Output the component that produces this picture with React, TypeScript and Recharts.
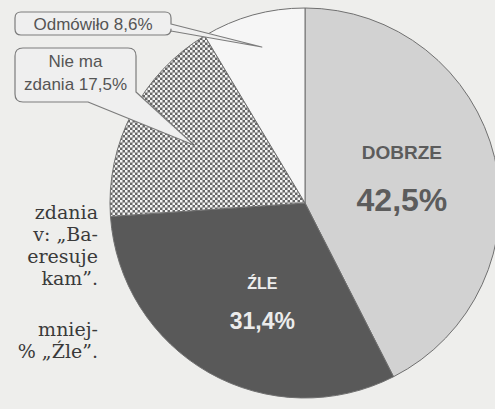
import React from 'react';
import { PieChart, Pie, Cell } from 'recharts';

const categories = ['DOBRZE', 'ŹLE', 'Nie ma zdania', 'Odmówiło'];
const values = [42.5, 31.4, 17.5, 8.6];
const valueLabels = ['42,5%', '31,4%', '17,5%', '8,6%'];
const bodyLines = ['zdania', 'v: „Ba-', 'eresuje', 'kam”.', '', 'mniej-', '% „Źle”.'];

const fills = ['#d2d2d2', '#595959', 'url(#checker)', '#f6f6f6'];
const data = categories.map((name, i) => ({ name, value: values[i] }));

const RAD = Math.PI / 180;
const polar = (cx: number, cy: number, r: number, a: number) => ({
  x: cx + r * Math.cos(-a * RAD),
  y: cy + r * Math.sin(-a * RAD),
});

// inside labels: [radius fraction, angle]
const insidePos: Record<number, { rf: number; a: number }> = {
  0: { rf: 0.51, a: 13 },
  1: { rf: 0.585, a: -112 },
};

// callout bubbles
const bubbles: Record<number, any> = {
  3: { x0: 15, y0: 12, x1: 171, y1: 35, r: 6, tipRf: 0.83, kind: 'right', t1: 24, t2: 31, lines: ['Odmówiło 8,6%'], base: [30] },
  2: { x0: 15, y0: 48, x1: 136, y1: 102, r: 8, tipRf: 0.64, kind: 'corner', t1: 92, t2: 88, lines: ['Nie ma', 'zdania 17,5%'], base: [67, 90] },
};

const renderLabel = (p: any) => {
  const { cx, cy, midAngle, outerRadius, index } = p;
  if (insidePos[index]) {
    const { rf, a } = insidePos[index];
    const pt = polar(cx, cy, outerRadius * rf, a);
    if (index === 0) {
      return (
        <g>
          <text x={pt.x} y={pt.y - 22} textAnchor="middle" fontFamily="Liberation Sans, Arial, sans-serif" fontWeight="bold" fontSize={19} fill="#5c5c5c">{categories[0]}</text>
          <text x={pt.x} y={pt.y + 30} textAnchor="middle" fontFamily="Liberation Sans, Arial, sans-serif" fontWeight="bold" fontSize={32} fill="#5c5c5c">{valueLabels[0]}</text>
        </g>
      );
    }
    return (
      <g>
        <text x={pt.x} y={pt.y - 20} textAnchor="middle" fontFamily="Liberation Sans, Arial, sans-serif" fontWeight="bold" fontSize={16} fill="#ececec">{categories[1]}</text>
        <text x={pt.x} y={pt.y + 20} textAnchor="middle" fontFamily="Liberation Sans, Arial, sans-serif" fontWeight="bold" fontSize={23} fill="#ececec">{valueLabels[1]}</text>
      </g>
    );
  }
  const b = bubbles[index];
  if (!b) return null;
  const tip = polar(cx, cy, outerRadius * b.tipRf, midAngle);
  const { x0, y0, x1, y1, r } = b;
  let d = '';
  if (b.kind === 'right') {
    d = `M${x0 + r},${y0} H${x1 - r} Q${x1},${y0} ${x1},${y0 + r} V${b.t1} L${tip.x},${tip.y} L${x1},${b.t2} V${y1 - r} Q${x1},${y1} ${x1 - r},${y1} H${x0 + r} Q${x0},${y1} ${x0},${y1 - r} V${y0 + r} Q${x0},${y0} ${x0 + r},${y0} Z`;
  } else {
    d = `M${x0 + r},${y0} H${x1 - r} Q${x1},${y0} ${x1},${y0 + r} V${b.t1} L${tip.x},${tip.y} L${b.t2},${y1} H${x0 + r} Q${x0},${y1} ${x0},${y1 - r} V${y0 + r} Q${x0},${y0} ${x0 + r},${y0} Z`;
  }
  const tx = (x0 + x1) / 2;
  return (
    <g>
      <path d={d} fill="#efefef" stroke="#7c7c7c" strokeWidth={1.2} strokeLinejoin="round" />
      {b.lines.map((l: string, i: number) => (
        <text key={i} x={tx} y={b.base[i]} textAnchor="middle" fontFamily="Liberation Sans, Arial, sans-serif" fontSize={17} fill="#555">{l}</text>
      ))}
    </g>
  );
};

export default function App() {
  return (
    <div style={{ position: 'absolute', left: 0, top: 0, width: 495, height: 409, background: '#eeeeec', overflow: 'hidden' }}>
      <svg width={495} height={409} style={{ position: 'absolute', left: 0, top: 0 }}>
        <defs>
          <pattern id="checker" patternUnits="userSpaceOnUse" width={5} height={5}>
            <rect x={0} y={0} width={5} height={5} fill="#666" />
            <rect x={0} y={0} width={2.5} height={2.5} fill="#f4f4f4" />
            <rect x={2.5} y={2.5} width={2.5} height={2.5} fill="#f4f4f4" />
          </pattern>
        </defs>
        {bodyLines.map((l, i) => (
          <text key={i} x={98} y={219 + i * 22 + (i >= 4 ? 7 : 0)} textAnchor="end" fontFamily="DejaVu Serif, serif" fontSize={19} fill="#3a3a3a">{l}</text>
        ))}
      </svg>
      <div style={{ position: 'absolute', left: 0, top: 0 }}>
        <PieChart width={495} height={409} margin={{ top: 0, right: 0, bottom: 0, left: 0 }}>
          <Pie
            data={data}
            dataKey="value"
            nameKey="name"
            cx={305}
            cy={203}
            outerRadius={195}
            startAngle={90}
            endAngle={-270}
            stroke="#707070"
            strokeWidth={1}
            label={renderLabel}
            labelLine={false}
            isAnimationActive={false}
          >
            {data.map((d, i) => (
              <Cell key={d.name} fill={fills[i]} />
            ))}
          </Pie>
        </PieChart>
      </div>
    </div>
  );
}
